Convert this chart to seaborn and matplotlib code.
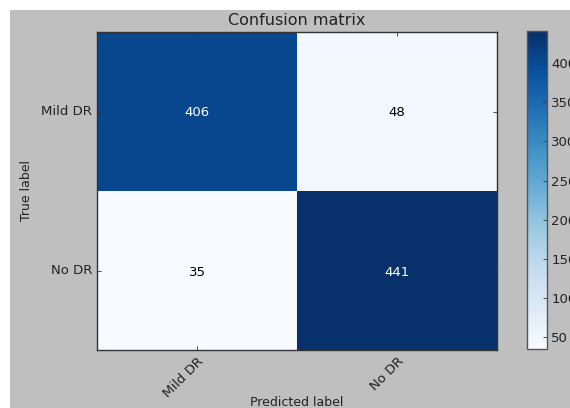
import numpy as np
import pandas as pd
import seaborn as sns
import matplotlib
matplotlib.use("Agg")
import matplotlib.pyplot as plt
from matplotlib.patches import Rectangle

# Class names and confusion counts (rows: true, columns: predicted)
classes = ["Mild DR", "No DR"]
row_mild = [406, 48]
row_no = [35, 441]
cbar_ticks = [50, 100, 150, 200, 250, 300, 350, 400]

cm = pd.DataFrame([row_mild, row_no], index=classes, columns=classes)

W, H = 570, 408
fig = plt.figure(figsize=(W / 100, H / 100), dpi=100, facecolor="white")
# grey canvas with a thin white margin on the left and top
fig.patches.append(Rectangle((10 / W, 0), 1 - 10 / W, 1 - 10 / H,
                             transform=fig.transFigure, facecolor="#bfbfbf",
                             edgecolor="none", zorder=-10))

ax = fig.add_axes([97 / W, 1 - 350 / H, 400 / W, 318 / H])
cax = fig.add_axes([527 / W, 1 - 349 / H, 20 / W, 318 / H])

vals = cm.values
thresh = vals.max() / 2.0
sns.heatmap(cm, ax=ax, cbar_ax=cax, cmap="Blues", annot=False,
            vmin=vals.min(), vmax=vals.max(), linewidths=0,
            cbar_kws={"ticks": cbar_ticks})

for i in range(vals.shape[0]):
    for j in range(vals.shape[1]):
        ax.text(j + 0.5, i + 0.5, f"{vals[i, j]}", ha="center",
                va="center_baseline", fontsize=9.5,
                color="white" if vals[i, j] > thresh else "black")

edge = "#333333"
for s in ax.spines.values():
    s.set_visible(True)
    s.set_color(edge)
    s.set_linewidth(1.0)

ax.set_title("Confusion matrix", fontsize=11.5, color="#222222", pad=5)
ax.set_xlabel("Predicted label", fontsize=9, color="#222222", labelpad=-3)
ax.set_ylabel("True label", fontsize=9, color="#222222", labelpad=6)
ax.set_xticklabels(classes, rotation=45, ha="right", rotation_mode="anchor",
                   fontsize=9.5, color="#222222")
ax.set_yticklabels(classes, rotation=0, fontsize=9.5, color="#222222")
ax.tick_params(axis="both", direction="in", length=3, width=0.6,
               colors=edge, top=True, right=True)
ax.tick_params(axis="both", labelcolor="#222222")

cax.tick_params(direction="in", length=3, width=0.6, colors=edge,
                labelsize=9.5, labelcolor="#222222", pad=3)
cb = ax.collections[0].colorbar
cb.outline.set_visible(True)
cb.outline.set_edgecolor("#555555")
cb.outline.set_linewidth(1.0)

fig.savefig("out.png", dpi=100, facecolor=fig.get_facecolor())
